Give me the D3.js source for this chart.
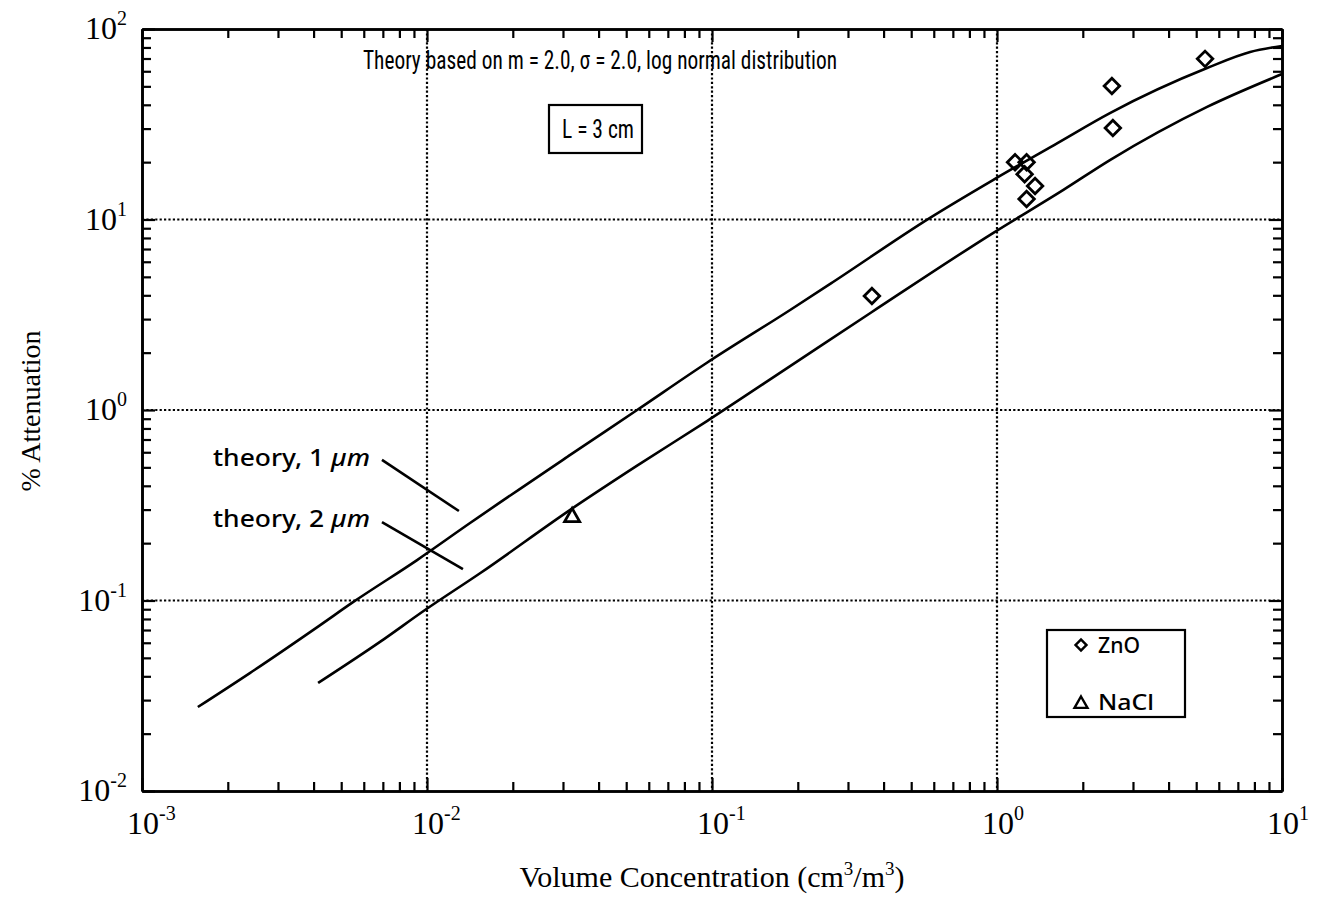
<!DOCTYPE html>
<html>
<head>
<meta charset="utf-8">
<script src="https://cdn.jsdelivr.net/npm/d3@7"></script>
<style>
  body { margin: 0; background: #fff; }
  svg { display: block; }
</style>
</head>
<body>
<svg id="chart" width="1317" height="897"></svg>
<script>
// ---------------- data ----------------
const xDecades = [1e-3, 1e-2, 1e-1, 1e0, 1e1];
const xExponents = ["-3", "-2", "-1", "0", "1"];
const yDecades = [1e-2, 1e-1, 1e0, 1e1, 1e2];
const yExponents = ["-2", "-1", "0", "1", "2"];

const theory1X = [0.00157, 0.00239, 0.00422, 0.0055, 0.00923, 0.01416, 0.0318, 0.0546, 0.096, 0.188, 0.266, 0.582, 0.968, 1.63, 2.49, 5.46, 7.73, 10];
const theory1Y = [0.0276, 0.0416, 0.0743, 0.098, 0.163, 0.255, 0.581, 1.0, 1.77, 3.35, 4.70, 10.2, 16.1, 25.2, 36.2, 62.4, 75.7, 81.5];

const theory2X = [0.00415, 0.00684, 0.00984, 0.01535, 0.0318, 0.0546, 0.096, 0.188, 0.364, 0.968, 1.71, 2.49, 5.46, 10];
const theory2Y = [0.0369, 0.0606, 0.0891, 0.139, 0.299, 0.51, 0.875, 1.70, 3.27, 8.49, 14.3, 20.5, 39.0, 58.0];

const znoX = [0.364, 1.157, 1.27, 1.25, 1.36, 1.27, 2.53, 2.55, 5.37];
const znoY = [3.97, 20.0, 20.0, 17.3, 15.0, 12.8, 50.2, 30.2, 69.7];

const naclX = [0.0323];
const naclY = [0.278];

const leader1X = [0.00695, 0.01294];
const leader1Y = [0.547, 0.295];
const leader2X = [0.00695, 0.01337];
const leader2Y = [0.258, 0.146];

// ---------------- layout ----------------
const L = 142, R = 1282, T = 29, B = 791;
const svg = d3.select("#chart");
const x = d3.scaleLog().domain([1e-3, 1e1]).range([L, R]);
const y = d3.scaleLog().domain([1e-2, 1e2]).range([B, T]);

const minorOf = (dom) => {
  const out = [];
  for (let e = Math.log10(dom[0]); e < Math.log10(dom[1]); e++) {
    for (let k = 2; k <= 9; k++) out.push(k * Math.pow(10, e));
  }
  return out;
};
const xMinor = minorOf([1e-3, 1e1]);
const yMinor = minorOf([1e-2, 1e2]);

// grid (dotted, at inner decades)
const gGrid = svg.append("g");
gGrid.selectAll("line.gx").data(xDecades.slice(1, -1)).join("line")
  .attr("x1", d => x(d)).attr("x2", d => x(d)).attr("y1", T).attr("y2", B)
  .attr("stroke", "#000").attr("stroke-width", 2.2).attr("stroke-dasharray", "2.2,2.2");
gGrid.selectAll("line.gy").data(yDecades.slice(1, -1)).join("line")
  .attr("y1", d => y(d)).attr("y2", d => y(d)).attr("x1", L).attr("x2", R)
  .attr("stroke", "#000").attr("stroke-width", 2.2).attr("stroke-dasharray", "2.2,2.2");

// axes (ticks inward on all sides)
function styleAxis(g) {
  g.selectAll("path.domain").attr("stroke", "#000").attr("stroke-width", 2.6);
  g.selectAll(".tick line").attr("stroke", "#000").attr("stroke-width", 2.2);
}
const mk = (axisFn, scale, vals, size) => axisFn(scale).tickValues(vals).tickSize(size).tickSizeOuter(0).tickFormat("");

svg.append("g").attr("transform", `translate(0,${B})`).call(mk(d3.axisBottom, x, xMinor, -9)).call(styleAxis);
svg.append("g").attr("transform", `translate(0,${B})`).call(mk(d3.axisBottom, x, xDecades, -13)).call(styleAxis);
svg.append("g").attr("transform", `translate(0,${T})`).call(mk(d3.axisTop, x, xMinor, -9)).call(styleAxis);
svg.append("g").attr("transform", `translate(0,${T})`).call(mk(d3.axisTop, x, xDecades, -13)).call(styleAxis);
svg.append("g").attr("transform", `translate(${L},0)`).call(mk(d3.axisLeft, y, yMinor, -9)).call(styleAxis);
svg.append("g").attr("transform", `translate(${L},0)`).call(mk(d3.axisLeft, y, yDecades, -13)).call(styleAxis);
svg.append("g").attr("transform", `translate(${R},0)`).call(mk(d3.axisRight, y, yMinor, -9)).call(styleAxis);
svg.append("g").attr("transform", `translate(${R},0)`).call(mk(d3.axisRight, y, yDecades, -13)).call(styleAxis);

// tick labels with superscripts
const serif = "'Liberation Serif','Times New Roman',serif";
xDecades.forEach((d, i) => {
  const t = svg.append("text").attr("x", x(d) - 15).attr("y", B + 43)
    .attr("font-family", serif).attr("font-size", 32).attr("fill", "#000");
  t.append("tspan").text("10");
  t.append("tspan").attr("font-size", 20).attr("dy", -14).text(xExponents[i]);
});
yDecades.forEach((d, i) => {
  const t = svg.append("text").attr("x", L - 15).attr("y", y(d) + 10)
    .attr("text-anchor", "end")
    .attr("font-family", serif).attr("font-size", 32).attr("fill", "#000");
  t.append("tspan").text("10");
  t.append("tspan").attr("font-size", 20).attr("dy", -14).text(yExponents[i]);
});

// axis titles
const xt = svg.append("text").attr("x", 712).attr("y", 887).attr("text-anchor", "middle")
  .attr("font-family", serif).attr("font-size", 30).attr("fill", "#000");
xt.append("tspan").text("Volume Concentration (cm");
xt.append("tspan").attr("font-size", 19).attr("dy", -12).text("3");
xt.append("tspan").attr("dy", 12).text("/m");
xt.append("tspan").attr("font-size", 19).attr("dy", -12).text("3");
xt.append("tspan").attr("dy", 12).text(")");

svg.append("text").attr("transform", `translate(40,411) rotate(-90)`)
  .attr("text-anchor", "middle").attr("font-family", serif).attr("font-size", 28)
  .attr("fill", "#000").text("% Attenuation");

// theory curves
const line = d3.line().x(d => x(d[0])).y(d => y(d[1])).curve(d3.curveMonotoneX);
const curve1 = theory1X.map((v, i) => [v, theory1Y[i]]);
const curve2 = theory2X.map((v, i) => [v, theory2Y[i]]);
[curve1, curve2].forEach(c => {
  svg.append("path").datum(c).attr("d", line)
    .attr("fill", "none").attr("stroke", "#000").attr("stroke-width", 2.6);
});

// leader lines
[[leader1X, leader1Y], [leader2X, leader2Y]].forEach(([lx, ly]) => {
  svg.append("line").attr("x1", x(lx[0])).attr("y1", y(ly[0])).attr("x2", x(lx[1])).attr("y2", y(ly[1]))
    .attr("stroke", "#000").attr("stroke-width", 2.6);
});

// markers
const diamond = d3.symbol().type(d3.symbolSquare).size(120);
svg.append("g").selectAll("path").data(znoX.map((v, i) => [v, znoY[i]])).join("path")
  .attr("d", diamond)
  .attr("transform", d => `translate(${x(d[0])},${y(d[1])}) rotate(45)`)
  .attr("fill", "none").attr("stroke", "#000").attr("stroke-width", 2.8);

const tri = (cx, cy, s) => `M${cx},${cy - s}L${cx + s * 1.0},${cy + s * 0.75}L${cx - s * 1.0},${cy + s * 0.75}Z`;
svg.append("g").selectAll("path").data(naclX.map((v, i) => [v, naclY[i]])).join("path")
  .attr("d", d => tri(x(d[0]), y(d[1]), 7.5))
  .attr("fill", "none").attr("stroke", "#000").attr("stroke-width", 2.8);

// annotations
const narrow = "'Liberation Sans Narrow','Roboto Condensed','DejaVu Sans Condensed',sans-serif";
const sans = "'Noto Sans','DejaVu Sans',sans-serif";
svg.append("text").attr("x", 600).attr("y", 69).attr("text-anchor", "middle")
  .attr("font-family", narrow).attr("font-size", 26).attr("font-weight", 400).attr("fill", "#000")
  .attr("textLength", 474).attr("lengthAdjust", "spacingAndGlyphs")
  .text("Theory based on m = 2.0, σ = 2.0, log normal distribution");

svg.append("rect").attr("x", 549).attr("y", 105).attr("width", 93).attr("height", 48)
  .attr("fill", "#fff").attr("stroke", "#000").attr("stroke-width", 2.2);
svg.append("text").attr("x", 598).attr("y", 138).attr("text-anchor", "middle")
  .attr("font-family", narrow).attr("font-size", 26).attr("font-weight", 400).attr("fill", "#000")
  .attr("textLength", 72).attr("lengthAdjust", "spacingAndGlyphs").text("L = 3 cm");

const lab1 = svg.append("text").attr("x", 213).attr("y", 466)
  .attr("font-family", sans).attr("font-size", 23).attr("font-weight", 500).attr("fill", "#000")
  .attr("textLength", 157).attr("lengthAdjust", "spacingAndGlyphs");
lab1.append("tspan").text("theory, 1 ");
lab1.append("tspan").attr("font-style", "italic").text("µm");
const lab2 = svg.append("text").attr("x", 213).attr("y", 527)
  .attr("font-family", sans).attr("font-size", 23).attr("font-weight", 500).attr("fill", "#000")
  .attr("textLength", 157).attr("lengthAdjust", "spacingAndGlyphs");
lab2.append("tspan").text("theory, 2 ");
lab2.append("tspan").attr("font-style", "italic").text("µm");

// legend
svg.append("rect").attr("x", 1047).attr("y", 630).attr("width", 138).attr("height", 87)
  .attr("fill", "#fff").attr("stroke", "#000").attr("stroke-width", 2.2);
svg.append("path").attr("d", d3.symbol().type(d3.symbolSquare).size(60))
  .attr("transform", "translate(1081,645) rotate(45)")
  .attr("fill", "none").attr("stroke", "#000").attr("stroke-width", 2.4);
svg.append("text").attr("x", 1098).attr("y", 653).attr("font-family", sans).attr("font-size", 22)
  .attr("font-weight", 500).attr("fill", "#000").attr("textLength", 42).attr("lengthAdjust", "spacingAndGlyphs").text("ZnO");
svg.append("path").attr("d", tri(1081, 703, 6.5))
  .attr("fill", "none").attr("stroke", "#000").attr("stroke-width", 2.4);
svg.append("text").attr("x", 1098).attr("y", 710).attr("font-family", sans).attr("font-size", 22)
  .attr("font-weight", 500).attr("fill", "#000").attr("textLength", 56).attr("lengthAdjust", "spacingAndGlyphs").text("NaCl");
</script>
</body>
</html>
